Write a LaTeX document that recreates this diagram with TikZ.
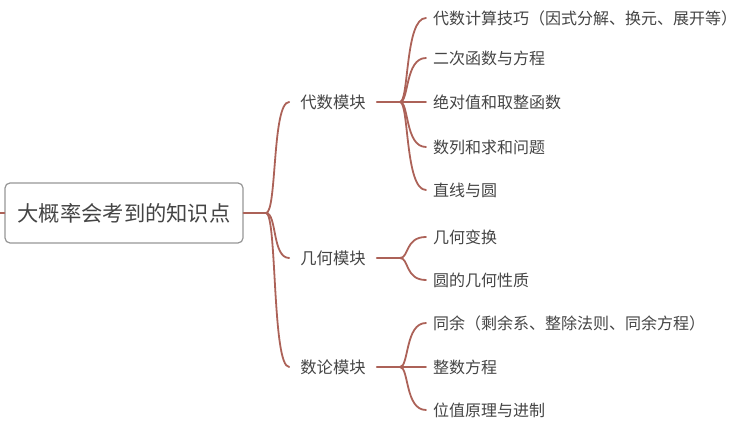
\documentclass[tikz,border=0pt]{standalone}
\usepackage{fontspec}
\setmainfont{Noto Sans CJK SC}
\usetikzlibrary{positioning, calc}
\definecolor{linkred}{RGB}{172,98,88}
\definecolor{txtgray}{RGB}{68,68,68}
\definecolor{boxgray}{RGB}{150,150,150}

\begin{document}
\begin{tikzpicture}[x=1pt, y=-1pt,
	rootbox/.style={shape=rectangle, draw=boxgray, line width=1.2pt, rounded corners=5pt, minimum width=238pt, minimum height=60pt, text=txtgray, font=\fontsize{21.3}{24}\selectfont},
	module/.style={inner xsep=11pt, inner ysep=2pt, text=txtgray, font=\fontsize{16.3}{19}\selectfont},
	leaf/.style={anchor=west, inner xsep=7pt, inner ysep=2pt, text=txtgray, font=\fontsize{16}{19}\selectfont},
	link/.style={draw=linkred, line width=1.8pt, line cap=round}]
	\useasboundingbox (0, 0) rectangle (738, 430);
	% Paths, nodes and wires:
	\node[rootbox] (root) at (124, 213){大概率会考到的知识点};
	\coordinate (stub) at (0, 213);
	\coordinate (hub) at (266, 213);
	\node[module] (alg) at (333, 102){代数模块};
	\node[module] (geo) at (333, 258){几何模块};
	\node[module] (num) at (333, 367){数论模块};
	\coordinate (algHub) at (400, 102);
	\coordinate (geoHub) at (400, 258);
	\coordinate (numHub) at (400, 367);
	\node[leaf] (alg1) at (426, 18){代数计算技巧（因式分解、换元、展开等）};
	\node[leaf] (alg2) at (426, 58){二次函数与方程};
	\node[leaf] (alg3) at (426, 102){绝对值和取整函数};
	\node[leaf] (alg4) at (426, 147){数列和求和问题};
	\node[leaf] (alg5) at (426, 190){直线与圆};
	\node[leaf] (geo1) at (426, 237){几何变换};
	\node[leaf] (geo2) at (426, 280){圆的几何性质};
	\node[leaf] (num1) at (426, 323){同余（剩余系、整除法则、同余方程）};
	\node[leaf] (num2) at (426, 367){整数方程};
	\node[leaf] (num3) at (426, 410){位值原理与进制};
	% root to modules
	\draw[link] (stub) -- (root.west);
	\draw[link] (root.east) -- (hub);
	\foreach \m in {alg, geo, num}
		\draw[link] (hub) .. controls ($(hub)+(11,0)$) and ($(hub|-\m.west)+(6,0)$) .. (\m.west);
	% modules to leaves
	\draw[link] (alg.east) -- (algHub);
	\draw[link] (geo.east) -- (geoHub);
	\draw[link] (num.east) -- (numHub);
	\foreach \l in {alg1, alg2, alg4, alg5}
		\draw[link] (algHub) .. controls ($(algHub)+(9,0)$) and ($(algHub|-\l.west)+(5,0)$) .. (\l.west);
	\draw[link] (algHub) -- (alg3.west);
	\foreach \l in {geo1, geo2}
		\draw[link] (geoHub) .. controls ($(geoHub)+(9,0)$) and ($(geoHub|-\l.west)+(5,0)$) .. (\l.west);
	\foreach \l in {num1, num3}
		\draw[link] (numHub) .. controls ($(numHub)+(9,0)$) and ($(numHub|-\l.west)+(5,0)$) .. (\l.west);
	\draw[link] (numHub) -- (num2.west);
\end{tikzpicture}
\end{document}
